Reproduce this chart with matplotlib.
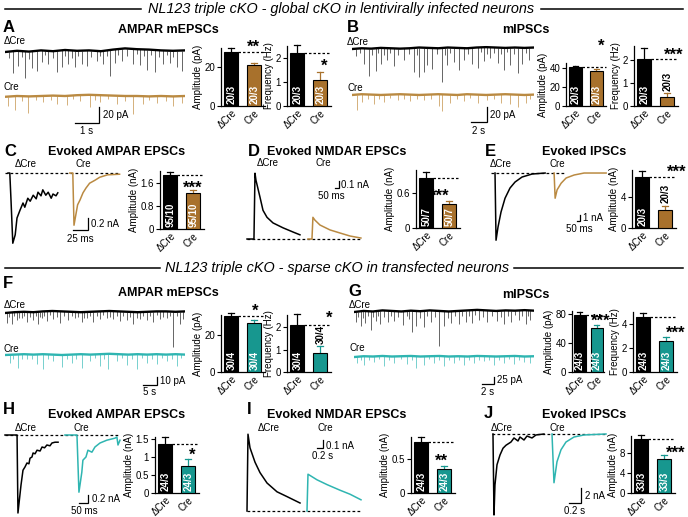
import numpy as np
import matplotlib
matplotlib.use('Agg')
import matplotlib.pyplot as plt

plt.rcParams['font.family'] = ['Liberation Sans', 'DejaVu Sans']
plt.rcParams['font.size'] = 7
plt.rcParams['axes.linewidth'] = 0.9

W, H = 688, 517

BROWN = '#BA8A42'
BROWN_BAR = '#A8712C'
CYAN = '#2FB5B1'
CYAN_BAR = '#17978F'

groups = ['ΔCre', 'Cre']

# ---- bar graphs: mean and SEM for ΔCre, Cre ----
a_amp, a_amp_sem = [28, 21], [2.0, 1.5]
a_freq, a_freq_sem = [2.2, 1.1], [0.35, 0.3]
b_amp, b_amp_sem = [41, 37], [1.0, 1.5]
b_freq, b_freq_sem = [2.05, 0.4], [0.45, 0.15]
c_amp, c_amp_sem = [1.85, 1.25], [0.12, 0.1]
d_amp, d_amp_sem = [0.87, 0.41], [0.1, 0.06]
e_amp, e_amp_sem = [6.6, 2.3], [0.8, 0.6]
f_amp, f_amp_sem = [30.3, 26.5], [1.8, 1.8]
f_freq, f_freq_sem = [2.1, 0.85], [0.5, 0.3]
g_amp, g_amp_sem = [79, 61], [4, 3.5]
g_freq, g_freq_sem = [4.55, 2.55], [0.4, 0.35]
h_amp, h_amp_sem = [1.35, 0.75], [0.2, 0.2]
i_amp, i_amp_sem = [0.75, 0.35], [0.08, 0.05]
j_amp, j_amp_sem = [10.9, 6.9], [0.8, 0.8]

# ---- miniature traces: event times (s), amplitudes (pA), baseline drift (pA) ----
a_dcre_t = [0.15, 0.35, 0.55, 0.70, 0.83, 1.0, 1.11, 1.32, 1.53, 1.68, 1.81, 2.0, 2.15, 2.36, 2.5,
            2.64, 2.8, 2.92, 3.05, 3.19, 3.40, 3.6, 3.82, 3.95, 4.10, 4.25, 4.38, 4.58, 4.72, 4.86,
            5.1, 5.35, 5.5, 5.63, 5.78, 5.90, 6.08, 6.25, 6.42, 6.60, 6.75, 6.88, 7.0, 7.15, 7.36]
a_dcre_amp = [8, 27, 19, 7, 33, 9, 21, 25, 15, 6, 17, 8, 27, 21, 7, 17, 9, 21, 6, 17, 19, 8, 12, 6, 17,
              7, 33, 17, 8, 15, 9, 19, 6, 19, 8, 25, 7, 27, 9, 17, 6, 15, 8, 21, 25]
a_dcre_drift = [0, 1.5, 0.5, 2, 1, 2.5, 1.5, 2, 1, 3, 4.5, 3.5, 3, 2, 1.5, 2]
a_cre_t = [0.14, 0.42, 0.7, 0.97, 1.3, 1.6, 1.9, 2.15, 2.57, 2.85, 3.13, 3.54, 3.75, 3.96, 4.3, 4.65,
           5.0, 5.35, 5.76, 6.0, 6.32, 6.7, 7.01, 7.36]
a_cre_amp = [12, 17, 6, 21, 5, 8, 6, 10, 12, 5, 8, 15, 6, 8, 5, 10, 6, 23, 10, 5, 8, 6, 12, 8]
a_cre_drift = [0, 1, 0.5, 1, 1.5, 1, 2, 2.5, 2, 1.5, 1, 1, 0.5, 1, 0.5, 1]

b_dcre_t = [0.46, 1.5, 2.1, 2.96, 3.58, 4.42, 5.25, 6.5, 7.75, 8.4, 9.0, 9.4, 10.0, 11.3, 11.9, 12.75,
            13.4, 14.0, 15.0, 15.7, 16.5, 17.3, 18.2, 19.0, 19.8, 20.7, 21.3, 22.1,
            1.0, 2.5, 3.3, 4.0, 4.8, 5.8, 7.1, 8.1, 10.6, 11.6, 12.3, 14.5, 16.1, 16.9, 17.8, 18.6,
            19.4, 20.3, 21.7]
b_dcre_amp = [10, 21, 36, 30, 21, 16, 23, 16, 32, 39, 32, 23, 28, 45, 23, 19, 30, 16, 21, 28, 19, 14,
              21, 30, 23, 34, 21, 16,
              6, 8, 7, 9, 6, 8, 7, 10, 8, 9, 7, 8, 6, 9, 7, 8, 6, 9, 7]
b_dcre_drift = [0, 1, 0.5, 1.5, 1, 0.5, 1, 2, 1.5, 1, 2, 1.5, 1, 2, 2.5, 2, 1.5, 2, 1.5, 2]
b_cre_t = [0.67, 1.3, 2.0, 2.75, 3.4, 4.0, 4.8, 5.7, 6.5, 7.3, 8.1, 9.0, 9.9, 10.9, 11.3, 12.3, 13.1,
           14.0, 14.8, 15.7, 16.9, 17.7, 18.6, 19.8, 20.7, 21.7, 22.3]
b_cre_amp = [20, 11, 6, 13, 6, 9, 5, 7, 6, 9, 5, 7, 6, 16, 22, 11, 6, 9, 5, 11, 7, 6, 11, 13, 16, 11, 6]
b_cre_drift = [0, 1, 0.5, 0, 0.5, 1, 0.5, 0, 0.5, 1, 0.5, 0, 1, 0.5, 0, 0.5, 1, 0.5, 0, 0.5]

f_dcre_t = [0.6, 2.4, 4.2, 6.0, 7.7, 10.1, 11.9, 13.1, 14.9, 17.3, 19.6, 22.6, 25.0, 27.4, 29.2, 31.5,
            33.9, 36.3, 38.7, 41.1, 43.5, 45.8, 48.2, 50.6, 53.0, 55.4, 57.7, 60.1, 62.5, 63.7,
            1.5, 3.3, 5.1, 6.8, 8.9, 11.0, 12.5, 14.0, 16.1, 18.5, 21.0, 23.8, 26.2, 28.3, 30.4, 32.7,
            35.1, 37.5, 39.9, 42.3, 44.6, 47.0, 49.4, 51.8, 54.2, 56.5, 58.9, 61.3]
f_dcre_amp = [12.5, 15, 10, 8, 12.5, 10, 15, 8, 12.5, 10, 15, 10, 8, 12.5, 8, 12.5, 10, 8, 10, 12.5,
              10, 15, 8, 10, 12.5, 10, 8, 44, 15, 10,
              6, 5, 7, 5, 6, 5, 7, 6, 5, 7, 6, 5, 6, 7, 5, 6, 5, 7, 6, 5, 6, 7, 5, 6, 5, 7, 6, 5]
f_dcre_drift = [0, 1, 1.5, 1, 2, 2.5, 2, 1.5, 1, 1.5, 2, 2.5, 2, 1.5, 1, 1.5, 2, 2, 1.5, 2]
f_cre_t = [1.8, 4.8, 7.7, 11.3, 13.7, 17.3, 20.2, 23.8, 27.4, 30.4, 33.9, 36.9, 39.9, 43.5, 47.0, 50.6,
           54.2, 57.7, 61.3,
           3.0, 6.2, 9.5, 15.5, 22.0, 25.5, 32.0, 35.4, 41.7, 45.3, 48.8, 52.4, 56.0, 59.5, 63.0]
f_cre_amp = [10, 17, 6, 12.5, 19, 8, 15, 10, 17, 8, 15, 19, 8, 12.5, 19, 10, 12.5, 8, 15,
             5, 6, 5, 6, 5, 6, 5, 6, 5, 6, 5, 6, 5, 6, 5]
f_cre_drift = [0, 0.5, 1, 0.5, 1, 0.5, 0, 0.5, 1, 0.5, 1, 1.5, 1, 0.5, 1, 0.5, 1, 0.5, 1, 0.5]

g_dcre_t = [0.28, 1.1, 1.9, 2.8, 3.6, 4.4, 5.6, 6.7, 8.1, 9.7, 10.3, 11.7, 12.8, 14.2, 15.0, 16.1, 17.5,
            18.6, 19.7, 20.8, 22.2, 23.9, 25.0, 26.1, 27.5, 28.6, 29.4,
            0.7, 1.5, 2.3, 3.2, 4.0, 5.0, 6.1, 7.3, 8.8, 9.2, 11.0, 12.2, 13.5, 15.6, 16.8, 18.0, 19.2,
            20.2, 21.5, 23.0, 24.5, 25.6, 26.8, 28.0, 29.0]
g_dcre_amp = [37.5, 56, 44, 69, 37.5, 50, 44, 37.5, 50, 81, 56, 62, 44, 131, 56, 44, 50, 44, 50, 37.5,
              44, 37.5, 50, 44, 37.5, 50, 37.5,
              20, 25, 18, 22, 20, 25, 18, 22, 20, 30, 25, 20, 22, 25, 20, 18, 22, 20, 25, 18, 22, 20,
              18, 22, 20]
g_dcre_drift = [0, 4, 2, 6, 4, 2, 5, 3, 6, 4, 2, 4, 6, 8, 6, 4, 6, 5, 7, 5]
g_cre_t = [0.56, 1.7, 3.3, 5.0, 6.7, 8.9, 10.3, 11.7, 13.3, 15.0, 16.7, 18.3, 20.0, 21.7, 23.3, 25.0,
           26.7, 28.3, 29.4,
           1.1, 2.5, 4.2, 5.8, 7.8, 9.6, 12.5, 14.2, 15.8, 17.5, 19.2, 20.8, 22.5, 24.2, 25.8, 27.5]
g_cre_amp = [25, 31, 19, 37.5, 25, 31, 44, 31, 25, 37.5, 25, 31, 25, 19, 31, 25, 31, 19, 25,
             12, 15, 12, 15, 12, 15, 12, 15, 12, 15, 12, 15, 12, 15, 12, 15]
g_cre_drift = [0, 3, 2, 4, 2, 3, 4, 2, 3, 4, 2, 3, 2, 4, 3, 2, 3, 4, 2, 3]

# ---- evoked traces: time (ms) and current (nA) ----
c_dcre_t = [0, 3, 5, 8, 12, 15, 20, 25, 28, 33, 37, 42, 47, 50, 55, 58, 63, 67, 72, 75, 80, 83]
c_dcre_i = [0, 0, -0.45, -1.17, -1.03, -0.75, -0.62, -0.5, -0.57, -0.42, -0.47, -0.37, -0.43, -0.32,
            -0.38, -0.28, -0.37, -0.32, -0.42, -0.35, -0.38, -0.33]
c_cre_t = [0, 5, 7, 10, 13, 17, 22, 27, 33, 42, 50, 63, 83]
c_cre_i = [0, 0, -0.87, -0.7, -0.53, -0.45, -0.33, -0.25, -0.17, -0.12, -0.07, -0.03, -0.02]

d_dcre_t = [0, 87, 100, 112, 162, 200, 250, 325, 450, 575, 662]
d_dcre_i = [0, 0, 0.94, 0.84, 0.60, 0.41, 0.31, 0.23, 0.16, 0.10, 0.06]
d_cre_t = [0, 50, 62, 87, 150, 275, 400, 525, 662]
d_cre_i = [0, 0, 0.31, 0.27, 0.20, 0.13, 0.086, 0.043, 0.014]

e_dcre_t = [0, 17, 50, 100, 167, 250, 334, 450, 617, 835]
e_dcre_i = [0, -11.2, -9.0, -6.5, -4.2, -2.5, -1.5, -0.67, -0.17, 0]
e_cre_t = [0, 17, 50, 117, 200, 334, 500, 867]
e_cre_i = [0, -4.2, -2.8, -1.7, -0.83, -0.33, 0, 0]

h_dcre_t = [0, 67, 72, 89, 100, 111, 122, 133, 139, 150, 156, 167, 178, 195, 206, 220, 233, 250, 261,
            278, 295]
h_dcre_i = [0, 0, -1.95, -1.25, -0.88, -0.8, -0.7, -0.72, -0.58, -0.55, -0.45, -0.47, -0.38, -0.4,
            -0.3, -0.32, -0.25, -0.27, -0.2, -0.18, -0.18]
h_cre_t = [0, 67, 78, 94, 100, 117, 128, 150, 167, 195, 233, 278, 289, 295, 306]
h_cre_i = [0, 0, -1.43, -0.93, -0.63, -0.55, -0.38, -0.43, -0.3, -0.2, -0.13, -0.08, -0.05, -0.25,
           -0.13]

i_dcre_t = [0, 33, 100, 267, 433, 667, 1000, 1333, 1767]
i_dcre_i = [0, 0.96, 0.79, 0.61, 0.48, 0.35, 0.24, 0.18, 0.10]
i_cre_t = [0, 33, 333, 667, 1100, 1433, 1800]
i_cre_i = [0, 0.46, 0.39, 0.33, 0.26, 0.21, 0.14]

j_dcre_t = [0, 17, 33, 67, 117, 167, 217, 300, 350, 417, 450, 517, 567, 650, 717, 850]
j_dcre_i = [0, -10.8, -6.8, -4.1, -2.8, -1.9, -1.5, -1.07, -0.53, -0.93, -0.4, -0.8, -0.27, -0.53,
            -0.13, 0]
j_cre_t = [0, 33, 83, 150, 233, 367, 533, 900]
j_cre_i = [0, -6.5, -3.7, -2.1, -1.07, -0.4, -0.13, 0]


fig = plt.figure(figsize=(W / 100, H / 100), dpi=100)

# overlay axes in pixel units for all free text and the header rules
ov = fig.add_axes([0, 0, 1, 1])
ov.set_xlim(0, W)
ov.set_ylim(H, 0)
ov.axis('off')


def px_axes(x0, y0, x1, y1):
    """Axes from a pixel box (top-left origin)."""
    ax = fig.add_axes([x0 / W, 1 - y1 / H, (x1 - x0) / W, (y1 - y0) / H])
    ax.patch.set_alpha(0)
    return ax


def label(x, y, s, **kw):
    kw.setdefault('fontsize', 7)
    kw.setdefault('va', 'center')
    ov.text(x, y, s, **kw)


def header(y, text, x_left, x_right):
    ov.plot([5, x_left], [y, y], color='k', lw=1.1)
    ov.plot([x_right, 683], [y, y], color='k', lw=1.1)
    label((x_left + x_right) / 2, y, text, fontsize=10.4, style='italic', ha='center')


def scale_bar(ax, x, y, dx, dy):
    ax.plot([x - dx, x, x], [y, y, y + dy], color='k', lw=0.9, clip_on=False,
            solid_joinstyle='miter')


def draw_minis(ax, t_ev, amp_ev, drift, dur, offset, color, ev_color):
    t_base = np.linspace(0, dur, len(drift))
    base = np.array(drift) + offset
    b = np.interp(t_ev, t_base, base)
    ax.vlines(t_ev, b, b - np.array(amp_ev), color=ev_color, lw=0.55)
    ax.plot(t_base, base, color=color, lw=1.7)


def draw_evoked(ax, t, cur, offset, color):
    ax.plot(np.array(t) + offset, cur, color=color, lw=1.1, clip_on=False)


def dashed(ax, x0, x1):
    ax.plot([x0, x1], [0, 0], color='k', lw=0.9, ls=(0, (2.2, 1.8)), clip_on=False)


def bar_panel(x0, y_bot, y_top, ymax, vals, sems, yticks, ytlabels, ylabel, n, bar_color,
              n_outside=False, unit=23, width=0.62):
    ax = px_axes(x0, y_top, x0 + 1.9 * unit, y_bot)
    ax.set_xlim(-0.45, 1.45)
    ax.set_ylim(0, ymax)
    ax.bar([0, 1], vals, width=width, color=['k', bar_color], edgecolor='k', linewidth=0.8, zorder=3)
    for xi, v, e, c in zip([0, 1], vals, sems, ['k', bar_color]):
        ax.plot([xi, xi], [v, v + e], color=c, lw=0.9, clip_on=False, zorder=2)
        ax.plot([xi - 0.13, xi + 0.13], [v + e, v + e], color=c, lw=0.9, clip_on=False, zorder=2)
    # dashed reference at the control mean
    ax.plot([width / 2, 1.45], [vals[0], vals[0]], color='k', lw=0.9, ls=(0, (2, 1.6)),
            clip_on=False)
    # n (cells/cultures)
    ax.text(0, ymax * 0.035, n, rotation=90, ha='center', va='bottom', color='w',
            fontsize=7, fontweight='bold', zorder=4)
    if n_outside:
        ax.text(1, vals[1] + sems[1] + ymax * 0.04, n, rotation=90, ha='center', va='bottom',
                color='k', fontsize=7, fontweight='bold', zorder=4)
    else:
        ax.text(1, ymax * 0.035, n, rotation=90, ha='center', va='bottom', color='w',
                fontsize=7, fontweight='bold', zorder=4)
    ax.spines[['top', 'right']].set_visible(False)
    ax.set_yticks(yticks)
    ax.set_yticklabels(ytlabels)
    ax.tick_params(axis='y', length=3, width=0.8, pad=1.2, labelsize=7)
    ax.set_xticks([0, 1])
    ax.set_xticklabels(groups, rotation=45, ha='right', rotation_mode='anchor', fontsize=7)
    ax.tick_params(axis='x', length=0, pad=1.5)
    ax.set_ylabel(ylabel, fontsize=7, labelpad=1)
    return ax


# ---------------- headers ----------------
header(9, 'NL123 triple cKO - global cKO in lentivirally infected neurons', 141, 541)
header(268, 'NL123 triple cKO - sparse cKO in transfected neurons', 160, 514)

# ---------------- A ----------------
label(3, 27, 'A', fontsize=12, fontweight='bold')
label(168, 30, 'AMPAR mEPSCs', fontsize=9, fontweight='bold', ha='center')
label(4, 41, 'ΔCre')
label(4, 87, 'Cre')
ax = px_axes(5, 38, 185, 135)
ax.set_xlim(0, 7.5)
ax.set_ylim(-103.75, 17.5)
ax.axis('off')
draw_minis(ax, a_dcre_t, a_dcre_amp, a_dcre_drift, 7.5, 0, 'k', '#3c3c3c')
draw_minis(ax, a_cre_t, a_cre_amp, a_cre_drift, 7.5, -56, BROWN, '#C99B58')
scale_bar(ax, 3.92, -88.75, 1.0, 20)
label(103, 115, '20 pA')
label(87, 131, '1 s', ha='center')
bar_panel(221, 106, 48, 30, a_amp, a_amp_sem, [0, 20], ['0', '20'], 'Amplitude (pA)', '20/3', BROWN_BAR)
bar_panel(287, 106, 46, 2.5, a_freq, a_freq_sem, [0, 1, 2], ['0', '1', '2'], 'Frequency (Hz)', '20/3',
          BROWN_BAR)
label(253, 47, '**', fontsize=12, fontweight='bold', ha='center')
label(324, 66, '*', fontsize=12, fontweight='bold', ha='center')

# ---------------- B ----------------
label(347, 27, 'B', fontsize=12, fontweight='bold')
label(526, 30, 'mIPSCs', fontsize=9, fontweight='bold', ha='center')
label(347, 42, 'ΔCre')
label(347, 88, 'Cre')
ax = px_axes(352, 38, 534, 135)
ax.set_xlim(0, 22.75)
ax.set_ylim(-114.7, 14.7)
ax.axis('off')
draw_minis(ax, b_dcre_t, b_dcre_amp, b_dcre_drift, 22.75, 0, 'k', '#3c3c3c')
draw_minis(ax, b_cre_t, b_cre_amp, b_cre_drift, 22.75, -61.3, BROWN, '#C99B58')
scale_bar(ax, 16.9, -97.3, 2.0, 20)
label(490, 115, '20 pA')
label(479, 131, '2 s', ha='center')
bar_panel(566, 106, 63, 45, b_amp, b_amp_sem, [0, 20, 40], ['0', '20', '40'], 'Amplitude (pA)',
          '20/3', BROWN_BAR, unit=21)
bar_panel(634, 106, 46, 2.6, b_freq, b_freq_sem, [0, 1, 2], ['0', '1', '2'], 'Frequency (Hz)', '20/3',
          BROWN_BAR, n_outside=True)
label(601, 46, '*', fontsize=12, fontweight='bold', ha='center')
label(674, 55, '***', fontsize=12, fontweight='bold', ha='center')

# ---------------- C ----------------
label(4, 152, 'C', fontsize=12, fontweight='bold')
label(117, 152, 'Evoked AMPAR EPSCs', fontsize=9, fontweight='bold', ha='center')
label(15, 164, 'ΔCre')
label(76, 164, 'Cre')
ax = px_axes(5, 160, 125, 250)
ax.set_xlim(0, 200)
ax.set_ylim(-1.283, 0.217)
ax.axis('off')
dashed(ax, 0, 192)
draw_evoked(ax, c_dcre_t, c_dcre_i, 5, 'k')
draw_evoked(ax, c_cre_t, c_cre_i, 108, BROWN)
scale_bar(ax, 138, -0.95, 25, 0.2)
label(91, 224, '0.2 nA')
label(80, 239, '25 ms', ha='center')
bar_panel(160, 229, 171, 2.0, c_amp, c_amp_sem, [0, 0.8, 1.6], ['0', '0.8', '1.6'], 'Amplitude (nA)',
          '95/10', BROWN_BAR)
label(193, 188, '***', fontsize=12, fontweight='bold', ha='center')

# ---------------- D ----------------
label(248, 152, 'D', fontsize=12, fontweight='bold')
label(337, 152, 'Evoked NMDAR EPSCs', fontsize=9, fontweight='bold', ha='center')
label(257, 163, 'ΔCre')
label(315, 163, 'Cre')
ax = px_axes(247, 160, 375, 250)
ax.set_xlim(0, 1600)
ax.set_ylim(-0.157, 1.129)
ax.axis('off')
dashed(ax, 0, 1437)
draw_evoked(ax, d_dcre_t, d_dcre_i, 0, 'k')
draw_evoked(ax, d_cre_t, d_cre_i, 762, BROWN)
scale_bar(ax, 1150, 0.73, 50, 0.1)
label(341, 185, '0.1 nA')
label(331, 196, '50 ms', ha='center')
bar_panel(416, 228, 170, 1.0, d_amp, d_amp_sem, [0, 0.6], ['0', '0.6'], 'Amplitude (nA)', '50/7',
          BROWN_BAR)
label(440, 196, '***', fontsize=12, fontweight='bold', ha='center')

# ---------------- E ----------------
label(485, 151, 'E', fontsize=12, fontweight='bold')
label(584, 152, 'Evoked IPSCs', fontsize=9, fontweight='bold', ha='center')
label(490, 164, 'ΔCre')
label(549, 164, 'Cre')
ax = px_axes(488, 160, 612, 250)
ax.set_xlim(0, 2067)
ax.set_ylim(-12.83, 2.17)
ax.axis('off')
dashed(ax, 50, 1286)
draw_evoked(ax, e_dcre_t, e_dcre_i, 117, 'k')
draw_evoked(ax, e_cre_t, e_cre_i, 1102, BROWN)
scale_bar(ax, 1536, -8, 50, 1)
label(583, 218, '1 nA')
label(579, 229, '50 ms', ha='center')
bar_panel(632, 228, 170, 7.5, e_amp, e_amp_sem, [0, 4], ['0', '4'], 'Amplitude (nA)', '20/3',
          BROWN_BAR, n_outside=True)
label(677, 172, '***', fontsize=12, fontweight='bold', ha='center')

# ---------------- F ----------------
label(3, 283, 'F', fontsize=12, fontweight='bold')
label(168, 293, 'AMPAR mEPSCs', fontsize=9, fontweight='bold', ha='center')
label(4, 305, 'ΔCre')
label(4, 349, 'Cre')
ax = px_axes(5, 300, 185, 395)
ax.set_xlim(0, 64.3)
ax.set_ylim(-102.5, 16.25)
ax.axis('off')
draw_minis(ax, f_dcre_t, f_dcre_amp, f_dcre_drift, 64.3, 0, 'k', '#3c3c3c')
draw_minis(ax, f_cre_t, f_cre_amp, f_cre_drift, 64.3, -52.5, CYAN, '#52C4C1')
scale_bar(ax, 54.3, -90, 5, 10)
label(160, 381, '10 pA')
label(150, 392, '5 s', ha='center')
bar_panel(221, 372, 315, 31, f_amp, f_amp_sem, [0, 20], ['0', '20'], 'Amplitude (pA)', '30/4', CYAN_BAR)
bar_panel(287, 372, 315, 2.55, f_freq, f_freq_sem, [0, 1, 2], ['0', '1', '2'], 'Frequency (Hz)',
          '30/4', CYAN_BAR, n_outside=True)
label(255, 311, '*', fontsize=12, fontweight='bold', ha='center')
label(329, 318, '*', fontsize=12, fontweight='bold', ha='center')

# ---------------- G ----------------
label(348, 291, 'G', fontsize=12, fontweight='bold')
label(526, 295, 'mIPSCs', fontsize=9, fontweight='bold', ha='center')
label(349, 305, 'ΔCre')
label(349, 348, 'Cre')
ax = px_axes(354, 300, 534, 395)
ax.set_xlim(0, 30)
ax.set_ylim(-311, 45)
ax.axis('off')
draw_minis(ax, g_dcre_t, g_dcre_amp, g_dcre_drift, 30, 0, 'k', '#3c3c3c')
draw_minis(ax, g_cre_t, g_cre_amp, g_cre_drift, 30, -168.75, CYAN, '#52C4C1')
scale_bar(ax, 23.3, -268.75, 2, 25)
label(497, 380, '25 pA')
label(488, 392, '2 s', ha='center')
bar_panel(572, 372, 311, 84, g_amp, g_amp_sem, [0, 40, 80], ['0', '40', '80'], 'Amplitude (pA)',
          '24/3', CYAN_BAR, unit=17, width=0.72)
bar_panel(633, 372, 312, 5, g_freq, g_freq_sem, [0, 2, 4], ['0', '2', '4'], 'Frequency (Hz)', '24/3',
          CYAN_BAR)
label(601, 321, '***', fontsize=12, fontweight='bold', ha='center')
label(676, 333, '***', fontsize=12, fontweight='bold', ha='center')

# ---------------- H ----------------
label(3, 409, 'H', fontsize=12, fontweight='bold')
label(117, 415, 'Evoked AMPAR EPSCs', fontsize=9, fontweight='bold', ha='center')
label(15, 428, 'ΔCre')
label(73, 428, 'Cre')
ax = px_axes(5, 425, 125, 517)
ax.set_xlim(0, 667)
ax.set_ylim(-2.05, 0.25)
ax.axis('off')
dashed(ax, 0, 639)
draw_evoked(ax, h_dcre_t, h_dcre_i, 0, 'k')
draw_evoked(ax, h_cre_t, h_cre_i, 333, CYAN)
scale_bar(ax, 461, -1.7, 50, 0.2)
label(92, 499, '0.2 nA')
label(84, 511, '50 ms', ha='center')
bar_panel(155, 493, 437, 1.55, h_amp, h_amp_sem, [0, 0.5, 1, 1.5], ['0', '0.5', '1', '1.5'],
          'Amplitude (nA)', '24/3', CYAN_BAR)
label(192, 455, '*', fontsize=12, fontweight='bold', ha='center')

# ---------------- I ----------------
label(247, 409, 'I', fontsize=12, fontweight='bold')
label(337, 415, 'Evoked NMDAR EPSCs', fontsize=9, fontweight='bold', ha='center')
label(258, 428, 'ΔCre')
label(318, 428, 'Cre')
ax = px_axes(247, 425, 375, 517)
ax.set_xlim(0, 4267)
ax.set_ylim(-0.075, 1.075)
ax.axis('off')
dashed(ax, 0, 3833)
draw_evoked(ax, i_dcre_t, i_dcre_i, 0, 'k')
draw_evoked(ax, i_cre_t, i_cre_i, 2000, CYAN)
scale_bar(ax, 2533, 0.79, 200, 0.1)
label(326, 446, '0.1 nA')
label(323, 456, '0.2 s', ha='center')
bar_panel(411, 493, 437, 0.83, i_amp, i_amp_sem, [0, 0.5], ['0', '0.5'], 'Amplitude (nA)', '24/3',
          CYAN_BAR)
label(441, 461, '**', fontsize=12, fontweight='bold', ha='center')

# ---------------- J ----------------
label(484, 413, 'J', fontsize=12, fontweight='bold')
label(584, 415, 'Evoked IPSCs', fontsize=9, fontweight='bold', ha='center')
label(491, 428, 'ΔCre')
label(549, 428, 'Cre')
ax = px_axes(488, 425, 612, 517)
ax.set_xlim(0, 2067)
ax.set_ylim(-11.07, 1.2)
ax.axis('off')
dashed(ax, 67, 1967)
draw_evoked(ax, j_dcre_t, j_dcre_i, 83, 'k')
draw_evoked(ax, j_cre_t, j_cre_i, 1067, CYAN)
scale_bar(ax, 1550, -9.2, 200, 2)
label(585, 496, '2 nA')
label(575, 511, '0.2 s', ha='center')
bar_panel(631, 493, 436, 11.5, j_amp, j_amp_sem, [0, 4, 8], ['0', '4', '8'], 'Amplitude (nA)', '33/3',
          CYAN_BAR)
label(676, 453, '***', fontsize=12, fontweight='bold', ha='center')

fig.savefig('out.png', dpi=100)
